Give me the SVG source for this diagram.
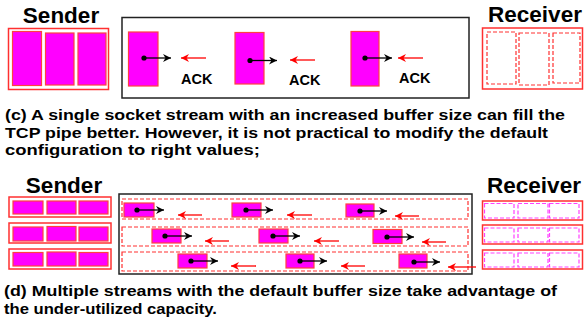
<svg xmlns="http://www.w3.org/2000/svg" width="585" height="325" viewBox="0 0 585 325">
<defs>
<style>
.t{font-family:"Liberation Sans",Arial,Helvetica,sans-serif;font-weight:bold;fill:#000}
.title{font-size:22.5px}
.cap{font-size:15.5px}
.ack{font-size:14.5px}
.outer{fill:#fff;stroke:#ff3030;stroke-width:1.5}
.pkt{fill:#ff00ff;stroke:#ff4040;stroke-width:1.2}
.rdash{fill:none;stroke:#ff3030;stroke-width:1.2;stroke-dasharray:4 2}
.mdash{fill:none;stroke:#ff40ff;stroke-width:1.2;stroke-dasharray:4 2}
.lane{fill:none;stroke:#ff3030;stroke-width:1.2;stroke-dasharray:4 2}
.pipe{fill:#fff;stroke:#222;stroke-width:1.5}
.fw{stroke:#000;stroke-width:1.3;fill:none;marker-end:url(#ahb)}
.bk{stroke:#ff0000;stroke-width:1.3;fill:none;marker-end:url(#ahr)}
.dot{fill:#000}
</style>
<marker id="ahb" markerUnits="userSpaceOnUse" markerWidth="10" markerHeight="10" refX="8" refY="4" orient="auto">
<path d="M0,0 L8,4 L0,8 L2.5,4 z" fill="#000"/>
</marker>
<marker id="ahr" markerUnits="userSpaceOnUse" markerWidth="10" markerHeight="10" refX="8" refY="4" orient="auto">
<path d="M0,0 L8,4 L0,8 L2.5,4 z" fill="#ff0000"/>
</marker>
</defs>
<rect width="585" height="325" fill="#fff"/>

<!-- (c) top section -->
<g id="sender-c">
<text class="t title" x="61" y="23" text-anchor="middle">Sender</text>
<rect class="outer" x="8.5" y="28.5" width="100" height="61"/>
<rect class="pkt" x="12.5" y="31.5" width="29" height="54"/>
<rect class="pkt" x="45.5" y="33" width="28.5" height="52"/>
<rect class="pkt" x="78" y="33" width="28" height="52"/>
</g>

<g id="pipe-c">
<rect class="pipe" x="122" y="17.5" width="347" height="80.5"/>
</g>
<g id="packet-c1"><rect class="pkt" x="128.5" y="32" width="29.5" height="54"/></g>
<g id="packet-c2"><rect class="pkt" x="235" y="32.5" width="29" height="51.5"/></g>
<g id="packet-c3"><rect class="pkt" x="351" y="31.5" width="28" height="54.5"/></g>
<g id="ack-c1"><text class="t ack" x="181" y="84">ACK</text></g>
<g id="ack-c2"><text class="t ack" x="289" y="85">ACK</text></g>
<g id="ack-c3"><text class="t ack" x="399" y="83">ACK</text></g>

<g id="receiver-c">
<text class="t title" x="535" y="22" text-anchor="middle">Receiver</text>
<rect class="outer" x="482.5" y="28" width="100" height="61"/>
<rect class="rdash" x="487" y="32" width="29" height="52"/>
<rect class="rdash" x="519" y="33" width="30" height="52"/>
<rect class="rdash" x="553" y="33" width="27" height="50"/>
</g>

<!-- (d) bottom section -->
<g id="sender-d">
<text class="t title" x="64" y="193" text-anchor="middle">Sender</text>
<rect class="outer" x="9" y="197" width="102" height="20"/>
<rect class="pkt" x="13" y="201" width="30" height="13"/>
<rect class="pkt" x="47" y="201" width="29" height="13"/>
<rect class="pkt" x="79" y="201" width="29" height="13"/>
<rect class="outer" x="9" y="223" width="102" height="20"/>
<rect class="pkt" x="13" y="227" width="30" height="14"/>
<rect class="pkt" x="47" y="226.5" width="29" height="14.5"/>
<rect class="pkt" x="79" y="227" width="29" height="14"/>
<rect class="outer" x="9" y="249" width="102" height="20"/>
<rect class="pkt" x="13" y="252.5" width="30" height="13.5"/>
<rect class="pkt" x="47" y="252" width="29" height="14"/>
<rect class="pkt" x="79" y="252.5" width="29" height="13.5"/>
</g>

<g id="pipe-d">
<rect class="pipe" x="119" y="194" width="353" height="80"/>
<rect class="lane" x="122" y="199" width="346" height="20"/>
<rect class="lane" x="122" y="227" width="346" height="19"/>
<rect class="lane" x="122" y="252" width="346" height="19"/>
</g>
<g id="packets-d">
<rect class="pkt" x="124" y="203" width="30" height="14"/>
<rect class="pkt" x="232" y="203" width="29" height="14"/>
<rect class="pkt" x="346" y="204" width="28" height="13"/>
<rect class="pkt" x="152" y="229" width="29" height="14"/>
<rect class="pkt" x="259" y="229" width="29" height="14"/>
<rect class="pkt" x="373" y="229.5" width="29" height="14"/>
<rect class="pkt" x="178" y="254" width="29" height="14"/>
<rect class="pkt" x="286" y="254" width="28" height="14"/>
<rect class="pkt" x="399" y="254" width="28" height="14"/>
</g>

<g id="receiver-d">
<text class="t title" x="534" y="193" text-anchor="middle">Receiver</text>
<rect class="outer" x="482.5" y="201" width="100" height="19"/>
<rect class="mdash" x="484.5" y="203.5" width="29.5" height="14.5"/>
<rect class="mdash" x="518" y="203.5" width="30" height="14.5"/>
<rect class="mdash" x="549.5" y="203.5" width="29.5" height="14.5"/>
<rect class="outer" x="482.5" y="225" width="100" height="19"/>
<rect class="mdash" x="484.5" y="228" width="29.5" height="14"/>
<rect class="mdash" x="518" y="228" width="30" height="14"/>
<rect class="mdash" x="549.5" y="228" width="29.5" height="14"/>
<rect class="outer" x="482.5" y="250" width="100" height="19"/>
<rect class="mdash" x="484.5" y="253" width="29.5" height="14"/>
<rect class="mdash" x="518" y="253" width="30" height="14"/>
<rect class="mdash" x="549.5" y="253" width="29.5" height="14"/>
</g>

<g id="connectors">
<!-- (c) -->
<circle class="dot" cx="144" cy="58" r="2.6"/>
<line class="fw" x1="144" y1="58" x2="171" y2="58"/>
<line class="bk" x1="206" y1="58" x2="181" y2="58"/>
<circle class="dot" cx="250" cy="60.5" r="2.6"/>
<line class="fw" x1="250" y1="60.5" x2="277" y2="60.5"/>
<line class="bk" x1="315" y1="60" x2="290" y2="60"/>
<circle class="dot" cx="365" cy="58" r="2.6"/>
<line class="fw" x1="365" y1="58" x2="392" y2="58"/>
<line class="bk" x1="423" y1="58" x2="398" y2="58"/>
<!-- (d) lane 1 -->
<circle class="dot" cx="137" cy="210" r="2.6"/>
<line class="fw" x1="137" y1="210" x2="164" y2="210"/>
<line class="bk" x1="202" y1="215" x2="178" y2="215"/>
<circle class="dot" cx="246" cy="210" r="2.6"/>
<line class="fw" x1="246" y1="210" x2="273" y2="210"/>
<line class="bk" x1="312" y1="215" x2="287" y2="215"/>
<circle class="dot" cx="360" cy="211" r="2.6"/>
<line class="fw" x1="360" y1="211" x2="387" y2="211"/>
<line class="bk" x1="419" y1="216" x2="395" y2="216"/>
<!-- lane 2 -->
<circle class="dot" cx="165" cy="236" r="2.6"/>
<line class="fw" x1="165" y1="236" x2="192" y2="236"/>
<line class="bk" x1="229" y1="241" x2="205" y2="241"/>
<circle class="dot" cx="273" cy="236" r="2.6"/>
<line class="fw" x1="273" y1="236" x2="300" y2="236"/>
<line class="bk" x1="339" y1="241" x2="314" y2="241"/>
<circle class="dot" cx="387" cy="237" r="2.6"/>
<line class="fw" x1="387" y1="237" x2="414" y2="237"/>
<line class="bk" x1="446" y1="242" x2="422" y2="242"/>
<!-- lane 3 -->
<circle class="dot" cx="191" cy="261" r="2.6"/>
<line class="fw" x1="191" y1="261" x2="218" y2="261"/>
<line class="bk" x1="256" y1="266" x2="231" y2="266"/>
<circle class="dot" cx="300" cy="261" r="2.6"/>
<line class="fw" x1="300" y1="261" x2="327" y2="261"/>
<line class="bk" x1="365" y1="266" x2="341" y2="266"/>
<circle class="dot" cx="414" cy="262" r="2.6"/>
<line class="fw" x1="414" y1="262" x2="440" y2="262"/>
<line class="bk" x1="476" y1="267" x2="448" y2="267"/>
</g>

<g id="captions">
<text class="t cap" x="5" y="120" textLength="560" lengthAdjust="spacingAndGlyphs">(c) A single socket stream with an increased buffer size can fill the</text>
<text class="t cap" x="5" y="137.5" textLength="543" lengthAdjust="spacingAndGlyphs">TCP pipe better. However, it is not practical to modify the default</text>
<text class="t cap" x="5" y="155" textLength="255" lengthAdjust="spacingAndGlyphs">configuration to right values;</text>
<text class="t cap" x="4" y="296" textLength="553" lengthAdjust="spacingAndGlyphs">(d) Multiple streams with the default buffer size take advantage of</text>
<text class="t cap" x="4" y="313.5" textLength="213" lengthAdjust="spacingAndGlyphs">the under-utilized capacity.</text>
</g>
</svg>
